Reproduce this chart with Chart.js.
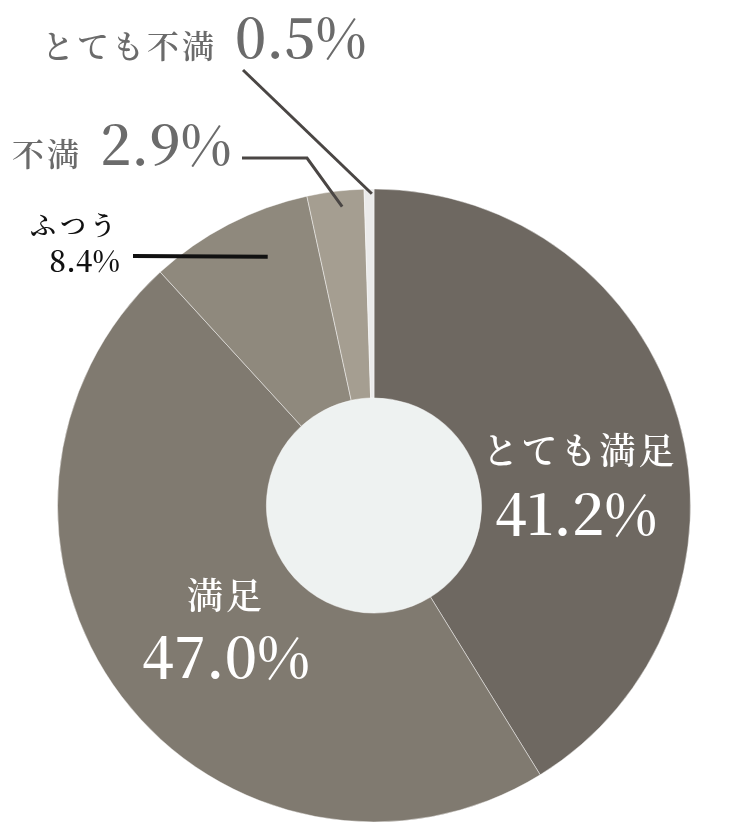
<!DOCTYPE html>
<html lang="ja">
<head>
<meta charset="utf-8">
<title>満足度</title>
<script src="https://cdn.jsdelivr.net/npm/chart.js@4"></script>
<style>
  html, body { margin: 0; padding: 0; background: #fff; }
  #wrap { width: 742px; height: 824px; position: relative; }
</style>
</head>
<body>
<div id="wrap"><canvas id="pie"></canvas></div>
<script>
const categories = ['とても満足', '満足', 'ふつう', '不満', 'とても不満'];
const shares = [41.2, 47.0, 8.4, 2.9, 0.5];
const shareLabels = ['41.2%', '47.0%', '8.4%', '2.9%', '0.5%'];
const sliceColors = ['#6e6861', '#807a70', '#8f897d', '#a59e91', '#ebebeb'];

const jpFont = '"Noto Serif CJK JP", "Noto Sans CJK JP", serif';
const numFont = '"Noto Serif CJK JP", "DejaVu Serif", serif';
const grayText = '#6b6b6b';
const leaderColor = '#4a4644';

// label layout, offsets in px from the pie centre
const insideLabels = [
    { i: 0, name: [206, -55], value: [202, 29.5] },
    { i: 1, name: [-148, 89.5], value: [-148, 172.5] }
];

const outsideLabels = [
    // ふつう
    { i: 2, t: 0.64, rf: 0.855, path: [[-241, -249.5]], color: '#111', width: 4,
      name: { text: 'ふつう', at: [-254, -280.5], size: 26, spacing: 4, color: '#111', weight: 600 },
      value: { at: [-254, -233.5], size: 29, color: '#111', align: 'right' } },
    // 不満
    { i: 3, t: 0.59, rf: 0.95, path: [[-132, -347.5], [-67, -347.5]], color: leaderColor, width: 3,
      name: { text: '不満', at: [-292, -351.5], size: 32, spacing: 3, color: grayText, weight: 600 },
      value: { at: [-274, -340.5], size: 54, color: grayText, align: 'left' } },
    // とても不満
    { i: 4, t: 0.78, rf: 0.985, path: [[-131, -435.5]], color: leaderColor, width: 3,
      name: { text: 'とても不満', at: [-157, -459.5], size: 32, spacing: 3, color: grayText, weight: 600 },
      value: { at: [-139, -447.5], size: 54, color: grayText, align: 'left' } }
];

const pieLabels = {
    id: 'pieLabels',
    beforeDatasetsDraw(chart) {
        const arc = chart.getDatasetMeta(0).data[0];
        const ctx = chart.ctx;
        ctx.save();
        ctx.fillStyle = '#eef2f1';
        ctx.beginPath();
        ctx.arc(arc.x, arc.y, arc.innerRadius + 1, 0, Math.PI * 2);
        ctx.fill();
        ctx.restore();
    },
    afterDatasetsDraw(chart) {
        const meta = chart.getDatasetMeta(0);
        const cx = meta.data[0].x;
        const cy = meta.data[0].y;
        const ctx = chart.ctx;
        ctx.save();

        insideLabels.forEach(l => {
            ctx.fillStyle = '#fff';
            ctx.textAlign = 'center';
            ctx.font = '600 36px ' + jpFont;
            ctx.letterSpacing = '3px';
            ctx.textBaseline = 'middle';
            ctx.fillText(categories[l.i], cx + l.name[0], cy + l.name[1]);
            ctx.font = '600 56px ' + numFont;
            ctx.letterSpacing = '0px';
            ctx.textBaseline = 'alphabetic';
            ctx.fillText(shareLabels[l.i], cx + l.value[0], cy + l.value[1]);
        });

        outsideLabels.forEach(l => {
            const a = meta.data[l.i];
            const ang = a.startAngle + l.t * (a.endAngle - a.startAngle);
            const r = a.outerRadius * l.rf;
            ctx.strokeStyle = l.color;
            ctx.lineWidth = l.width;
            ctx.lineJoin = 'miter';
            ctx.beginPath();
            l.path.forEach((p, k) => {
                if (k === 0) ctx.moveTo(cx + p[0], cy + p[1]);
                else ctx.lineTo(cx + p[0], cy + p[1]);
            });
            ctx.lineTo(cx + Math.cos(ang) * r, cy + Math.sin(ang) * r);
            ctx.stroke();

            ctx.fillStyle = l.name.color;
            ctx.font = l.name.weight + ' ' + l.name.size + 'px ' + jpFont;
            ctx.letterSpacing = l.name.spacing + 'px';
            ctx.textAlign = 'right';
            ctx.textBaseline = 'middle';
            ctx.fillText(l.name.text, cx + l.name.at[0], cy + l.name.at[1]);

            ctx.fillStyle = l.value.color;
            ctx.font = '600 ' + l.value.size + 'px ' + numFont;
            ctx.letterSpacing = '0px';
            ctx.textAlign = l.value.align;
            ctx.textBaseline = 'alphabetic';
            ctx.fillText(shareLabels[l.i], cx + l.value.at[0], cy + l.value.at[1]);
        });
        ctx.restore();
    }
};

new Chart(document.getElementById('pie').getContext('2d'), {
    type: 'doughnut',
    data: {
        labels: categories,
        datasets: [{
            data: shares,
            backgroundColor: sliceColors,
            borderColor: 'rgba(255, 255, 255, 0.45)',
            borderWidth: 1
        }]
    },
    options: {
        responsive: true,
        maintainAspectRatio: false,
        animation: false,
        cutout: '34%',
        layout: { padding: { left: 57, right: 51, top: 188.5, bottom: 1.5 } },
        plugins: {
            legend: { display: false },
            tooltip: { enabled: false }
        }
    },
    plugins: [pieLabels]
});
</script>
</body>
</html>
